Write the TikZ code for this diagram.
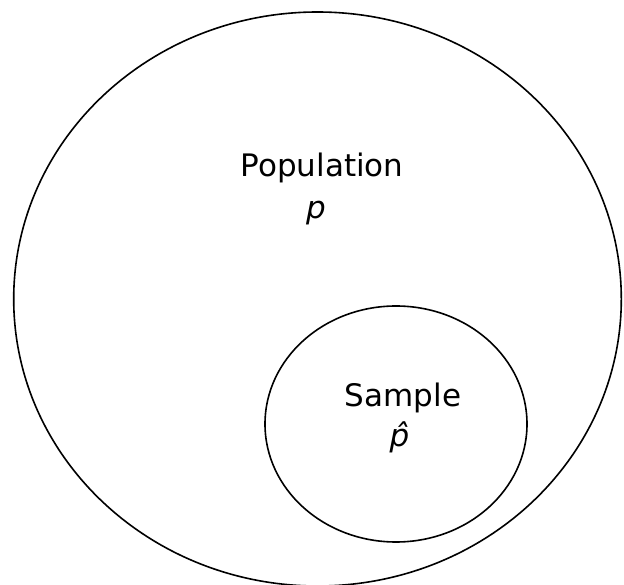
\documentclass[tikz,border=0pt]{standalone}
\usepackage{fontspec}
\setmainfont{DejaVu Sans}
\usepackage{tikz}
\usetikzlibrary{positioning}

\begin{document}
\begin{tikzpicture}[
  x=1pt, y=1pt,
  set/.style={draw, line width=1.6pt},
  lbl/.style={font=\fontsize{31}{37}\selectfont, inner sep=0pt}
]
\useasboundingbox (0,0) rectangle (624,584);
% population and sample sets
\draw[set] (317.5,285) ellipse [x radius=303.8, y radius=287];
\draw[set] (396,160) ellipse [x radius=131, y radius=118];

\node[lbl] (pop) at (322,416) {Population};
\node[lbl] (popp) at (316,371) {\textit{p}};
\node[lbl] (samp) at (403,186) {Sample};
\node[lbl] (sampp) at (400,147) {\textit{\^{p}}};
\end{tikzpicture}
\end{document}
